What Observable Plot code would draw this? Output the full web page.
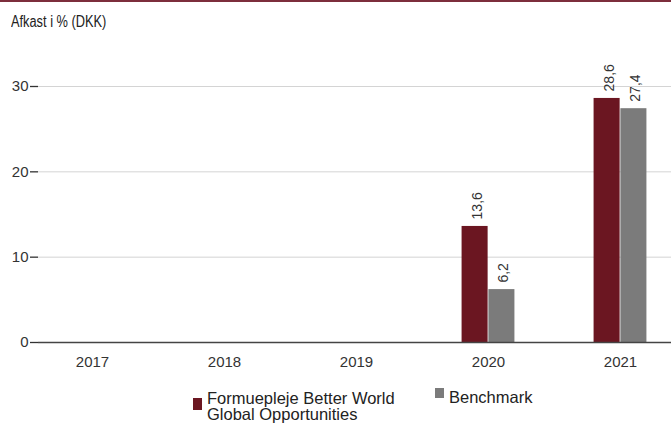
<!DOCTYPE html>
<html><head><meta charset="utf-8">
<script src="https://cdn.jsdelivr.net/npm/d3@7"></script>
<script src="https://cdn.jsdelivr.net/npm/@observablehq/plot@0.6"></script>
<style>
body{margin:0;width:671px;height:423px;position:relative;overflow:hidden;background:#fff;font-family:"Liberation Sans",Arial,sans-serif;}
#topline{position:absolute;left:0;top:0;width:671px;height:2px;background:#7d2e3c;}
#title{position:absolute;left:11px;top:13.5px;font-family:"Liberation Sans",sans-serif;font-size:16px;line-height:16px;color:#222;white-space:nowrap;transform:scaleX(0.8);transform-origin:0 0;}
#chart{position:absolute;left:0;top:30px;}
.leg{position:absolute;font-size:16.5px;line-height:16.2px;color:#222;white-space:nowrap;}
.sw{position:absolute;}
</style></head><body>
<div id="topline"></div>
<div id="title"></div>
<div id="chart"></div>
<div id="legend"></div>
<script>
const titleText = "Afkast i % (DKK)";
const years = ["2017","2018","2019","2020","2021"];
const fund = [null,null,null,13.6,28.6];
const bench = [null,null,null,6.2,27.4];
const yTicks = [0,10,20,30];
const seriesNames = ["Formuepleje Better World\nGlobal Opportunities","Benchmark"];
const seriesColors = ["#6b1621","#7b7b7b"];

document.getElementById("title").textContent = titleText;

const fundRows = years.map((year,i)=>({year, value: fund[i]})).filter(d=>d.value!=null);
const benchRows = years.map((year,i)=>({year, value: bench[i]})).filter(d=>d.value!=null);
const fmt = v => v.toFixed(1).replace(".", ",");
const xRange = [24.3, 688.1];
const half = (xRange[1]-xRange[0])/years.length/2;
const bw = 26.8;

const chart = Plot.plot({
  width:671, height:350, marginLeft:38, marginRight:0, marginTop:56, marginBottom:38,
  style:{fontFamily:"'Liberation Sans', Arial, sans-serif", fontSize:"15px", color:"#333", background:"transparent", overflow:"visible"},
  x:{type:"band", domain:years, range:xRange, padding:0},
  y:{domain:[0,30], range:[312,56]},
  marks:[
    Plot.ruleY(yTicks.filter(t=>t>0), {stroke:"#d4d4d4", strokeWidth:1}),
    Plot.barY(fundRows, {x:"year", y:"value", fill:seriesColors[0], insetLeft: half-bw, insetRight: half}),
    Plot.barY(benchRows, {x:"year", y:"value", fill:seriesColors[1], insetLeft: half, insetRight: half-bw}),
    Plot.text(fundRows, {x:"year", y:"value", text: d=>fmt(d.value), rotate:-90, textAnchor:"start", dx:-bw/2+2, dy:-7, fill:"#333", fontSize:14}),
    Plot.text(benchRows, {x:"year", y:"value", text: d=>fmt(d.value), rotate:-90, textAnchor:"start", dx:bw/2+2, dy:-7, fill:"#333", fontSize:14}),
    Plot.ruleY([0], {stroke:"#444", strokeWidth:1.5}),
    Plot.axisY({ticks:yTicks, tickSize:8, tickPadding:2, stroke:"#333", strokeWidth:1.3, label:null, fontSize:15, fill:"#333"}),
    Plot.axisX({tickSize:0, tickPadding:14, label:null, fontSize:15, fill:"#333"})
  ]
});
document.getElementById("chart").appendChild(chart);

const legend = document.getElementById("legend");
const legPos = [
  {sw:[193,398,9,12], tx:[207,390]},
  {sw:[435,388,9,10], tx:[449,388.5]}
];
seriesNames.forEach((name,i)=>{
  const s = document.createElement("div");
  s.className="sw";
  const p = legPos[i];
  Object.assign(s.style,{left:p.sw[0]+"px",top:p.sw[1]+"px",width:p.sw[2]+"px",height:p.sw[3]+"px",background:seriesColors[i]});
  legend.appendChild(s);
  const t = document.createElement("div");
  t.className="leg";
  Object.assign(t.style,{left:p.tx[0]+"px",top:p.tx[1]+"px"});
  t.innerHTML = name.split("\n").map(l=>l.replace(/&/g,"&amp;")).join("<br>");
  legend.appendChild(t);
});
</script>
</body></html>
